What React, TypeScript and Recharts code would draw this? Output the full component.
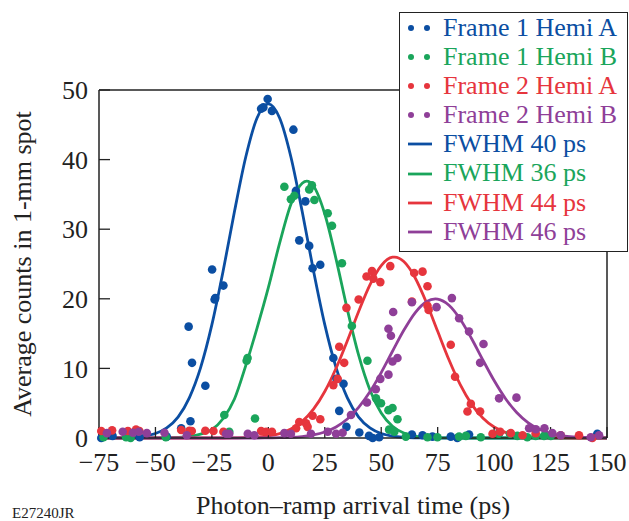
import React from 'react';
import { ComposedChart, Scatter, Line, XAxis, YAxis } from 'recharts';

const BLUE = '#0b4ea2';
const GREEN = '#1aa55b';
const RED = '#e6353d';
const PURPLE = '#8f3f98';
const INK = '#222';
const FONT = '"Liberation Serif", "Times New Roman", serif';

const xTicks = [-75, -50, -25, 0, 25, 50, 75, 100, 125, 150];
const yTicks = [0, 10, 20, 30, 40, 50];

// measured spots: [arrival time (ps), counts]
const frame1HemiA: [number, number][] = [
  [-74, 0.0], [-69, 0.3], [-57, 0.1], [-45, 0.2], [-38.6, 1.4], [-34.5, 2.4],
  [-35.3, 16.0], [-33.8, 10.8], [-27.9, 7.5], [-24.9, 24.2], [-23.8, 19.9],
  [-23.5, 20.1], [-19.9, 21.9], [-3.2, 47.3], [-2.2, 47.5], [-0.3, 48.7],
  [1.6, 47.0], [11.1, 44.3], [12.2, 35.5], [16.4, 34.0], [13.7, 28.4],
  [18.1, 27.6], [19.6, 24.4], [23.0, 24.9], [28.8, 11.5], [30.2, 8.5],
  [33.3, 7.8], [31.4, 3.9], [34.6, 1.6], [40.3, 0.8], [44.6, 0.3], [46.2, 0.0],
  [49.1, 0.1], [63.6, 0.5], [68.3, 0.4], [72.7, 0.2], [80.8, 0.2], [83.7, 0.0],
  [88.9, 0.5], [102.2, 0.7], [145.7, 0.6],
];

const frame1HemiB: [number, number][] = [
  [-73, 0.1], [-63, 0.1], [-61, 0.0], [-45.4, 0.1], [-17.3, 0.9], [-19.5, 3.3],
  [-9.2, 11.5], [-9.6, 11.1], [-5.9, 2.8], [7.1, 36.1], [10.0, 34.3],
  [11.5, 34.8], [18.1, 35.7], [19.3, 36.3], [20.4, 34.2], [26.3, 32.3],
  [28.2, 30.5], [32.6, 25.1], [37.0, 16.1], [43.9, 11.1], [47.7, 5.7],
  [49.9, 5.0], [53.2, 4.0], [55.0, 4.3], [57.2, 2.7], [53.5, 1.2], [55.8, 0.9],
  [60.9, 0.2], [70.5, 0.1], [74.9, 0.1], [84.5, 0.2], [87.5, 0.3], [94.1, 0.1],
  [102, 0.6], [107, 0.6], [110.3, 0.3], [114.7, 0.1], [118.4, 0.3],
  [122.1, 0.3], [125.1, 0.3],
];

const frame2HemiA: [number, number][] = [
  [-74, 1.0], [-69.2, 1.1], [-62.2, 1.0], [-58.6, 1.2], [-57.1, 1.0],
  [-38.6, 1.15], [-35.0, 1.05], [-33.9, 1.0], [-27.9, 1.05], [-24.3, 1.0],
  [-19.9, 0.9], [-3.2, 1.0], [-1.0, 0.9], [1.6, 0.9], [12.3, 1.4], [13.7, 2.3],
  [16.7, 2.1], [17.4, 1.6], [19.6, 3.2], [23.0, 2.7], [28.8, 7.6], [30.7, 8.5],
  [31.4, 13.1], [33.6, 10.8], [34.6, 18.7], [40.0, 19.9], [43.5, 23.2],
  [45.9, 24.0], [46.5, 22.9], [49.6, 22.4], [54.0, 24.7], [64.6, 23.7],
  [68.3, 23.9], [63.6, 19.6], [70.5, 21.8], [70.5, 19.0], [71.0, 18.4],
  [80.8, 13.4], [82.7, 8.8], [89.7, 4.9], [88.2, 3.8], [93.8, 3.8], [99.3, 0.6],
  [102.7, 0.9], [107.4, 0.7], [112.6, 0.4], [118.4, 0.7], [129.5, 0.4],
  [137.6, 0.4], [143.5, 0.0],
];

const frame2HemiB: [number, number][] = [
  [-71.5, 0.7], [-64.5, 0.9], [-60.0, 0.75], [-57.4, 0.9], [-53.8, 0.7],
  [-46.0, 0.75], [-36.1, 0.4], [-18.7, 0.6], [-17.3, 0.6], [-9.1, 0.6],
  [-6.2, 0.4], [7.1, 0.7], [10.0, 0.6], [18.9, 0.6], [26.3, 0.9], [30.0, 0.6],
  [32.9, 0.75], [36.6, 3.3], [43.7, 5.1], [47.6, 7.0], [49.6, 8.5], [53.2, 9.1],
  [55.0, 11.0], [57.2, 11.5], [53.2, 15.7], [54.3, 14.7], [55.3, 18.1],
  [63.6, 19.5], [74.5, 18.8], [81.3, 20.1], [84.5, 17.2], [88.9, 15.3],
  [95.3, 13.5], [93.8, 10.8], [102.2, 5.7], [109.9, 5.8], [115.5, 1.4],
  [118.5, 1.25], [122.3, 1.4], [125.8, 0.7], [129.5, 0.4], [142.8, 0.1],
  [146.5, 0.4],
];

// fitted curves
const fwhm40: [number, number][] = [
  [-75, 0], [-70, 0.01], [-65, 0.03], [-60, 0.09], [-55, 0.26], [-50, 0.64],
  [-45, 1.45], [-40, 3.01], [-35, 5.77], [-30, 10.11], [-25, 16.28], [-20, 24.02],
  [-15, 32.53], [-10, 40.37], [-5, 45.97], [0, 48], [5, 45.97], [10, 40.37],
  [15, 32.53], [20, 24.02], [25, 16.28], [30, 10.11], [35, 5.77], [40, 3.01],
  [45, 1.45], [50, 0.64], [55, 0.26], [60, 0.09], [65, 0.03], [70, 0.01],
  [75, 0], [150, 0],
];

const fwhm36: [number, number][] = [
  [-75, 0], [-45, 0.02], [-40, 0.08], [-35, 0.22], [-30, 0.55], [-25, 1.2],
  [-20, 2.8], [-15, 5.6], [-10, 10.4], [-5, 15.8], [0, 21.6], [5, 28.0],
  [10, 33.6], [15, 36.6], [17, 36.9], [20, 36.2], [25, 32.18], [30, 25.71],
  [35, 18.45], [40, 11.9], [45, 6.9], [50, 3.59], [55, 1.68], [60, 0.71],
  [65, 0.27], [70, 0.09], [75, 0.03], [80, 0.01], [85, 0], [150, 0],
];

const fwhm44: [number, number][] = [
  [-75, 0], [-20, 0], [-15, 0.02], [-10, 0.05], [-5, 0.13], [0, 0.3], [5, 0.64],
  [10, 1.29], [15, 2.39], [20, 4.14], [25, 6.68], [30, 10.02], [35, 13.98],
  [40, 18.18], [45, 22.0], [50, 24.78], [55, 25.98], [56, 26], [60, 25.35],
  [65, 23.03], [70, 19.48], [75, 15.33], [80, 11.24], [85, 7.67], [90, 4.87],
  [95, 2.88], [100, 1.58], [105, 0.81], [110, 0.39], [115, 0.17], [120, 0.07],
  [125, 0.03], [130, 0.01], [135, 0], [150, 0],
];

const fwhm46: [number, number][] = [
  [-75, 0], [-5, 0], [0, 0.02], [5, 0.04], [10, 0.09], [15, 0.21], [20, 0.44],
  [25, 0.86], [30, 1.58], [35, 2.73], [40, 4.4], [45, 6.64], [50, 9.4],
  [55, 12.46], [60, 15.47], [65, 17.99], [70, 19.58], [74, 20], [75, 19.97],
  [80, 19.08], [85, 17.07], [90, 14.3], [95, 11.22], [100, 8.25], [105, 5.68],
  [110, 3.66], [115, 2.21], [120, 1.25], [125, 0.66], [130, 0.33], [135, 0.15],
  [140, 0.07], [145, 0.03], [150, 0.01],
];

const dotSeries = [
  { name: 'Frame 1 Hemi A', points: frame1HemiA, color: BLUE },
  { name: 'Frame 1 Hemi B', points: frame1HemiB, color: GREEN },
  { name: 'Frame 2 Hemi A', points: frame2HemiA, color: RED },
  { name: 'Frame 2 Hemi B', points: frame2HemiB, color: PURPLE },
];

const fitSeries = [
  { name: 'FWHM 40 ps', points: fwhm40, color: BLUE },
  { name: 'FWHM 36 ps', points: fwhm36, color: GREEN },
  { name: 'FWHM 44 ps', points: fwhm44, color: RED },
  { name: 'FWHM 46 ps', points: fwhm46, color: PURPLE },
];

const toRows = (pts: [number, number][]) => pts.map(([x, y]) => ({ x, y }));
const fmtX = (v: number) => (v < 0 ? `\u2212${Math.abs(v)}` : `${v}`);

const tickFont = { fontSize: 26, fontFamily: FONT, fill: INK };
const axisLine = { stroke: INK, strokeWidth: 1.5 };
const tickLine = { stroke: INK, strokeWidth: 1.3 };

function Dot(color: string) {
  return (props: any) => <circle cx={props.cx} cy={props.cy} r={4.3} fill={color} />;
}

function LegendBox() {
  const rows = [
    ...dotSeries.map((s) => ({ ...s, kind: 'dot' })),
    ...fitSeries.map((s) => ({ ...s, kind: 'line' })),
  ];
  return (
    <div
      style={{
        position: 'absolute',
        left: 399,
        top: 12,
        width: 229,
        height: 240,
        boxSizing: 'border-box',
        border: `1.5px solid ${INK}`,
        background: '#fff',
        fontFamily: FONT,
        fontSize: 26,
      }}
    >
      {rows.map((r) => (
        <div key={r.name} style={{ display: 'flex', alignItems: 'center', height: 29.1, lineHeight: '29.1px', color: r.color, whiteSpace: 'nowrap' }}>
          <svg width={43} height={29} style={{ flex: 'none' }}>
            {r.kind === 'dot' ? (
              <>
                <circle cx={11} cy={15} r={3} fill={r.color} />
                <circle cx={27} cy={15} r={3} fill={r.color} />
              </>
            ) : (
              <line x1={8} x2={32} y1={15} y2={15} stroke={r.color} strokeWidth={2.8} />
            )}
          </svg>
          <span>{r.name}</span>
        </div>
      ))}
    </div>
  );
}

export default function App() {
  return (
    <div style={{ position: 'absolute', left: 0, top: 0, width: 629, height: 521, background: '#fff' }}>
      <ComposedChart width={629} height={521} margin={{ top: 89, right: 21, bottom: 82, left: 98 }}>
        <XAxis
          dataKey="x"
          type="number"
          domain={[-75, 150]}
          ticks={xTicks}
          interval={0}
          height={1}
          tickSize={-11}
          tickMargin={26}
          tick={tickFont}
          tickFormatter={fmtX}
          axisLine={axisLine}
          tickLine={tickLine}
        />
        <XAxis
          xAxisId="top"
          orientation="top"
          type="number"
          domain={[-75, 150]}
          ticks={xTicks}
          interval={0}
          height={1}
          tickSize={-11}
          tick={false}
          axisLine={axisLine}
          tickLine={tickLine}
        />
        <YAxis
          type="number"
          domain={[0, 50]}
          ticks={yTicks}
          interval={0}
          width={1}
          tickSize={-11}
          tickMargin={22}
          tick={tickFont}
          axisLine={axisLine}
          tickLine={tickLine}
        />
        <YAxis
          yAxisId="right"
          orientation="right"
          type="number"
          domain={[0, 50]}
          ticks={yTicks}
          interval={0}
          width={1}
          tickSize={-11}
          tick={false}
          axisLine={axisLine}
          tickLine={tickLine}
        />
        {dotSeries.map((s) => (
          <Scatter
            key={s.name}
            name={s.name}
            data={toRows(s.points)}
            dataKey="y"
            fill={s.color}
            shape={Dot(s.color)}
            isAnimationActive={false}
          />
        ))}
        {fitSeries.map((s) => (
          <Line
            key={s.name}
            name={s.name}
            data={toRows(s.points)}
            dataKey="y"
            type="monotone"
            stroke={s.color}
            strokeWidth={2.8}
            dot={false}
            activeDot={false}
            isAnimationActive={false}
          />
        ))}
      </ComposedChart>
      <LegendBox />
      <div
        style={{
          position: 'absolute',
          left: 22.5,
          top: 263.5,
          transform: 'translate(-50%, -50%) rotate(-90deg)',
          whiteSpace: 'nowrap',
          fontFamily: FONT,
          fontSize: 26,
          lineHeight: 1,
          color: INK,
        }}
      >
        Average counts in 1-mm spot
      </div>
      <div
        style={{
          position: 'absolute',
          left: 353,
          top: 493,
          transform: 'translateX(-50%)',
          whiteSpace: 'nowrap',
          fontFamily: FONT,
          fontSize: 26,
          lineHeight: 1,
          color: INK,
        }}
      >
        Photon–ramp arrival time (ps)
      </div>
      <div
        style={{
          position: 'absolute',
          left: 12,
          top: 506,
          fontFamily: FONT,
          fontSize: 15,
          lineHeight: 1,
          color: INK,
        }}
      >
        E27240JR
      </div>
    </div>
  );
}
